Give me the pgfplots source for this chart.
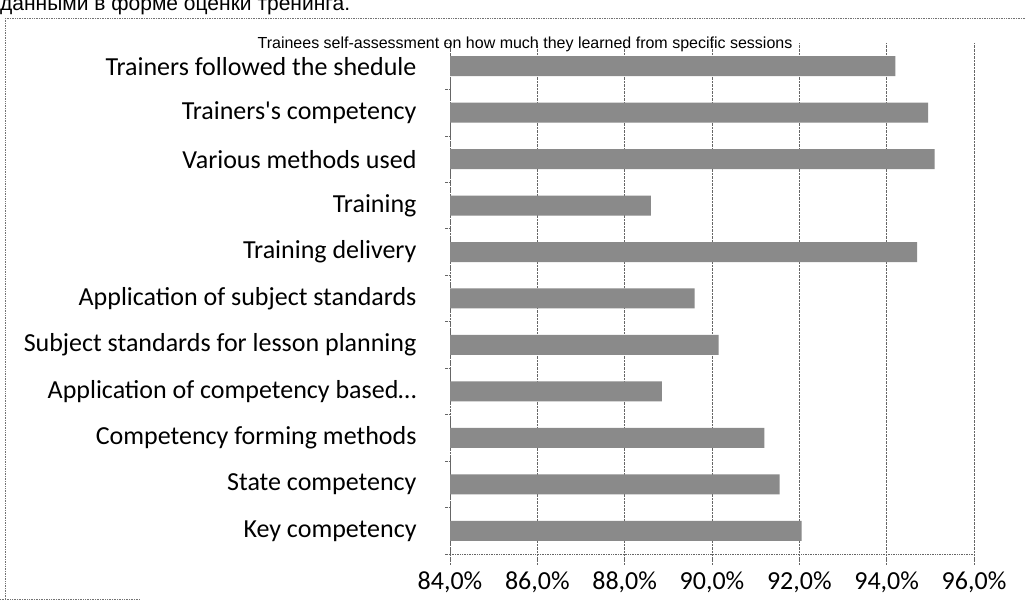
\documentclass[border=0pt]{standalone}
\usepackage{pgfplots}
\pgfplotsset{compat=1.18}
\usepackage{fontspec}
\setmainfont{Carlito}
\newfontfamily\calib{Carlito}
\newfontfamily\arialfont{Liberation Sans}

\begin{document}
\begin{tikzpicture}
\useasboundingbox (0bp,0bp) rectangle (1026bp,606bp);
\fill[white] (0bp,0bp) rectangle (1026bp,606bp);
% clipped header text from the page above
\node[anchor=base west, inner sep=0pt, font=\arialfont\fontsize{21bp}{25bp}\selectfont] at (0bp,595bp) {данными в форме оценки тренинга.};
% chart frame
\draw[densely dotted, black!55, line width=0.7bp] (5bp,588bp) -- (1026bp,588bp);
\draw[densely dotted, black!55, line width=0.7bp] (5bp,588bp) -- (5bp,7bp);
\draw[densely dotted, black!55, line width=0.7bp] (0bp,7bp) -- (140bp,7bp);

\begin{axis}[
  at={(450bp,52bp)}, anchor=south west,
  scale only axis, width=524bp, height=511bp,
  xbar, bar width=20bp,
  xmin=84, xmax=96, ymin=-0.5, ymax=10.5,
  clip=true,
  axis x line*=bottom, axis y line*=left,
  axis line style={-, densely dotted, black!60, line width=0.7bp},
  xtick={84,86,88,90,92,94,96},
  xticklabels={{84,0\%},{86,0\%},{88,0\%},{90,0\%},{92,0\%},{94,0\%},{96,0\%}},
  ytick={0,...,10},
  yticklabels={Key competency, State competency, Competency forming methods, Application of competency based…, Subject standards for lesson planning, Application of subject standards, Training delivery, Training, Various methods used, Trainers's competency, Trainers followed the shedule},
  minor ytick={-0.5,0.5,...,10.5},
  tick align=outside,
  major tick length=10bp, minor tick length=5bp,
  major y tick style={draw=none},
  minor y tick style={densely dotted, black!60, line width=0.7bp},
  major x tick style={densely dotted, black!60, line width=0.7bp},
  xmajorgrids=true,
  grid style={densely dotted, black!60, line width=0.7bp},
  tick label style={font=\calib\fontsize{26bp}{31bp}\selectfont, text=black},
  yticklabel style={xshift=-20bp},
  xticklabel style={yshift=-4bp},
]
\addplot[fill=black!46, draw=none] coordinates {
  (92.05,0) (91.55,1) (91.2,2) (88.85,3) (90.15,4) (89.6,5)
  (94.7,6) (88.6,7) (95.1,8) (94.95,9) (94.2,10)};
\end{axis}

\node[font=\arialfont\fontsize{16bp}{19bp}\selectfont, inner sep=0pt] at (525bp,562bp) {Trainees self-assessment on how much they learned from specific sessions};
\end{tikzpicture}
\end{document}
